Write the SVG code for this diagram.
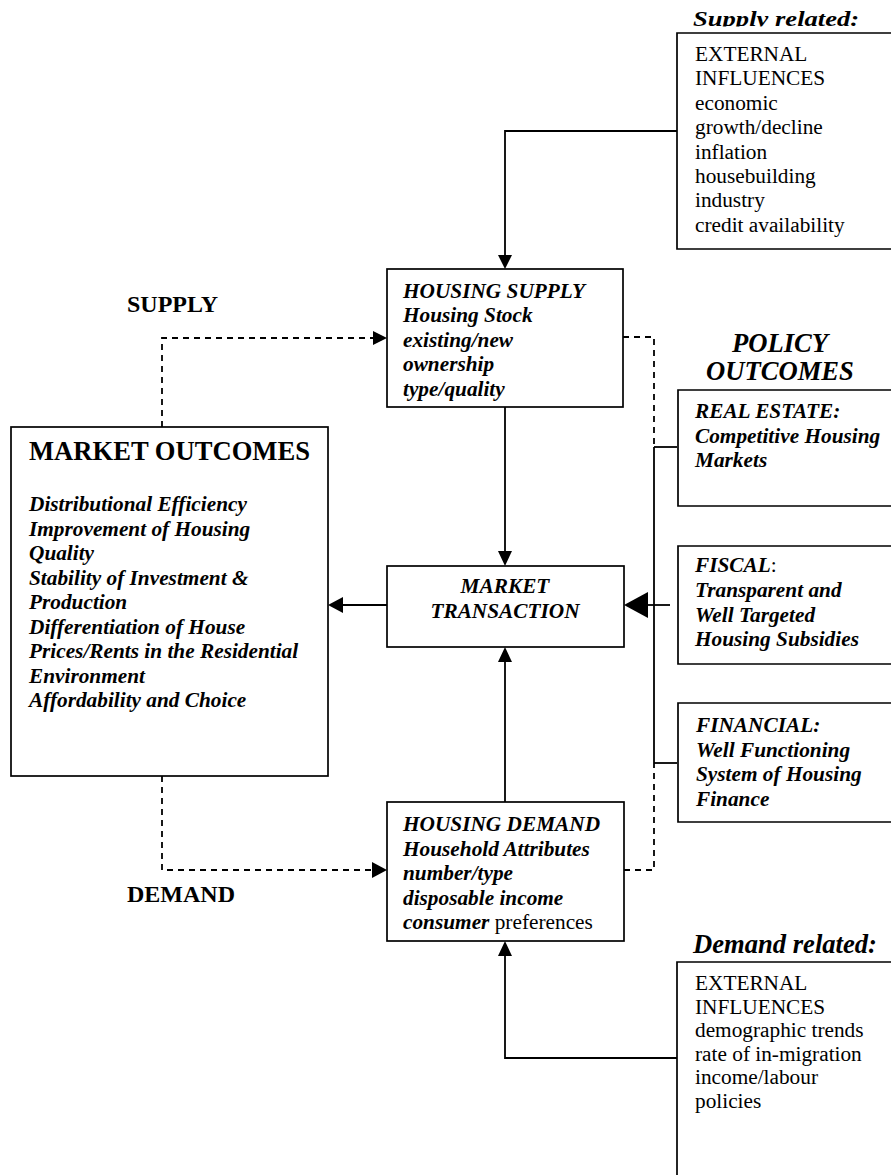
<svg xmlns="http://www.w3.org/2000/svg" width="891" height="1175" viewBox="0 0 891 1175">
<style>
text{font-family:"Liberation Serif","Times New Roman",serif;fill:#000}
.bi{font-weight:bold;font-style:italic;font-size:21.3px}
.r{font-size:21.3px}
.n{font-weight:normal;font-style:normal}
.ttl{font-weight:bold;font-size:26.6px}
.lbl{font-weight:bold;font-size:24px}
.hd{font-weight:bold;font-style:italic;font-size:26.6px}
.box{fill:#fff;stroke:#000;stroke-width:1.7}
.ln{fill:none;stroke:#000;stroke-width:1.8}
.ds{fill:none;stroke:#000;stroke-width:1.8;stroke-dasharray:6 5}
</style>
<defs>
<clipPath id="clipSup" clipPathUnits="userSpaceOnUse"><rect x="680" y="0" width="211" height="26.5"/></clipPath>
</defs>

<g id="connectors">
<path class="ln" d="M677,131 H505 V256"/>
<polygon points="498,255 512,255 505,269"/>
<path class="ln" d="M505,407 V552"/>
<polygon points="498,551 512,551 505,566"/>
<path class="ln" d="M387,605 H342"/>
<polygon points="343,597 343,613 328,605"/>
<path class="ln" d="M505,802 V661"/>
<polygon points="498,662 512,662 505,647"/>
<path class="ln" d="M677,1058 H505 V955"/>
<polygon points="498,956 512,956 505,941"/>
<path class="ds" d="M162,427 V338 H374"/>
<polygon points="373,331 373,345 387,338"/>
<path class="ds" d="M162,776 V870 H374"/>
<polygon points="372,862 372,878 387,870"/>
<path class="ds" d="M623,337 H654 V447"/>
<path class="ds" d="M624,870 H654 V763"/>
<path class="ln" d="M654,447 V763"/>
<path class="ln" d="M654,447 H677"/>
<path class="ln" d="M654,763 H677"/>
<path class="ln" d="M670,605 H646"/>
<polygon points="648,592 648,618 624,605"/>
</g>

<g id="supply-related">
<g clip-path="url(#clipSup)">
<text class="hd" transform="translate(693,26) scale(1,0.82)">Supply related:</text>
</g>
<path class="box" d="M891,33 H677 V249 H891"/>
<text class="r" x="695" y="61">EXTERNAL</text>
<text class="r" x="695" y="85.4">INFLUENCES</text>
<text class="r" x="695" y="109.8">economic</text>
<text class="r" x="695" y="134.2">growth/decline</text>
<text class="r" x="695" y="158.6">inflation</text>
<text class="r" x="695" y="183">housebuilding</text>
<text class="r" x="695" y="207.4">industry</text>
<text class="r" x="695" y="231.8">credit availability</text>
</g>

<g id="supply-label">
<text class="lbl" x="127" y="312">SUPPLY</text>
</g>

<g id="housing-supply">
<rect class="box" x="387" y="269" width="236" height="138"/>
<text class="bi" x="403" y="297.5">HOUSING SUPPLY</text>
<text class="bi" x="403" y="322">Housing Stock</text>
<text class="bi" x="403" y="346.5">existing/new</text>
<text class="bi" x="403" y="371">ownership</text>
<text class="bi" x="403" y="395.5">type/quality</text>
</g>

<g id="policy-outcomes-label">
<text class="hd" x="780" y="352" text-anchor="middle">POLICY</text>
<text class="hd" x="780" y="380" text-anchor="middle">OUTCOMES</text>
</g>

<g id="market-outcomes">
<rect class="box" x="11" y="427" width="317" height="349"/>
<text class="ttl" x="29" y="460">MARKET OUTCOMES</text>
<text class="bi" x="29" y="511">Distributional Efficiency</text>
<text class="bi" x="29" y="535.5">Improvement of Housing</text>
<text class="bi" x="29" y="560">Quality</text>
<text class="bi" x="29" y="584.5">Stability of Investment &amp;</text>
<text class="bi" x="29" y="609">Production</text>
<text class="bi" x="29" y="633.5">Differentiation of House</text>
<text class="bi" x="29" y="658">Prices/Rents in the Residential</text>
<text class="bi" x="29" y="682.5">Environment</text>
<text class="bi" x="29" y="707">Affordability and Choice</text>
</g>

<g id="real-estate">
<path class="box" d="M891,390 H678 V506 H891"/>
<text class="bi" x="695" y="418">REAL ESTATE:</text>
<text class="bi" x="695" y="442.5">Competitive Housing</text>
<text class="bi" x="695" y="467">Markets</text>
</g>

<g id="market-transaction">
<rect class="box" x="387" y="566" width="237" height="81"/>
<text class="bi" x="505" y="593" text-anchor="middle">MARKET</text>
<text class="bi" x="505" y="618" text-anchor="middle">TRANSACTION</text>
</g>

<g id="fiscal">
<path class="box" d="M891,546 H678 V664 H891"/>
<text class="bi" x="695" y="572">FISCAL<tspan class="n">:</tspan></text>
<text class="bi" x="695" y="597">Transparent and</text>
<text class="bi" x="695" y="621.5">Well Targeted</text>
<text class="bi" x="695" y="646">Housing Subsidies</text>
</g>

<g id="financial">
<path class="box" d="M891,703 H678 V822 H891"/>
<text class="bi" x="696" y="732">FINANCIAL:</text>
<text class="bi" x="696" y="757">Well Functioning</text>
<text class="bi" x="696" y="781">System of Housing</text>
<text class="bi" x="696" y="805.5">Finance</text>
</g>

<g id="housing-demand">
<rect class="box" x="387" y="802" width="237" height="139"/>
<text class="bi" x="403" y="831">HOUSING DEMAND</text>
<text class="bi" x="403" y="856">Household Attributes</text>
<text class="bi" x="403" y="880">number/type</text>
<text class="bi" x="403" y="905">disposable income</text>
<text class="bi" x="403" y="929">consumer <tspan class="n">preferences</tspan></text>
</g>

<g id="demand-label">
<text class="lbl" x="127" y="902">DEMAND</text>
</g>

<g id="demand-related">
<text class="hd" x="693" y="953">Demand related:</text>
<path class="box" d="M891,962 H677 V1180"/>
<text class="r" x="695" y="990">EXTERNAL</text>
<text class="r" x="695" y="1013.5">INFLUENCES</text>
<text class="r" x="695" y="1037">demographic trends</text>
<text class="r" x="695" y="1060.5">rate of in-migration</text>
<text class="r" x="695" y="1084">income/labour</text>
<text class="r" x="695" y="1107.5">policies</text>
</g>
</svg>
